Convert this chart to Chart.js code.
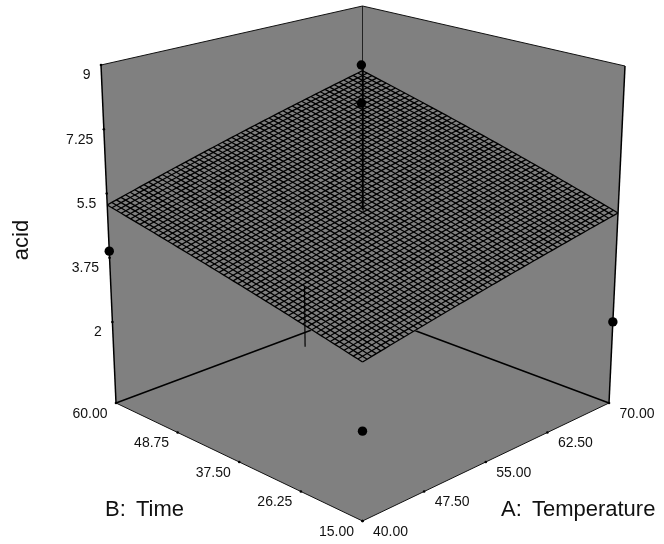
<!DOCTYPE html>
<html>
<head>
<meta charset="utf-8">
<style>html,body{margin:0;padding:0;background:#fff}canvas{display:block}</style>
<script src="https://cdn.jsdelivr.net/npm/chart.js@4/dist/chart.umd.min.js"></script>
</head>
<body>
<canvas id="c" width="664" height="544"></canvas>
<script>
// ---- data ----
const tempTicks = [40, 47.5, 55, 62.5, 70];
const timeTicks = [15, 26.25, 37.5, 48.75, 60];
const acidTicks = [2, 3.75, 5.5, 7.25, 9];
const tempLabels = ['40.00', '47.50', '55.00', '62.50', '70.00'];
const timeLabels = ['15.00', '26.25', '37.50', '48.75', '60.00'];
const acidLabels = ['2', '3.75', '5.5', '7.25', '9'];
const acidFloor = -0.206;
const acidTop = 9;
// fitted response at the four corners of the surface
const surfaceAt40 = [3.75, 5.187];   // T=40: time 15, time 60
const surfaceAt70 = [4.985, 7.047];  // T=70: time 15, time 60
const meshDivisions = 55;
// design points
const pointTemp = [54.92, 54.92, 40, 70, 40];
const pointTime = [37.62, 37.62, 60, 15, 15];
const pointAcid = [9.19, 8.15, 3.93, 2.01, 2.03];
// residual stems
const stemTemp = [55, 43.75];
const stemTime = [37.5, 30.9];
const stemFrom = [5.24, 2.88];
const stemTo = [9.19, 4.44];

// ---- view of the cube: where its corners land on the page ----
const view = {
  floor: { f00: [362.5, 521], f10: [609, 403], f01: [116, 403], f11: [362.5, 311] },
  top:   { f00: [362.5, 151], f10: [625, 66],  f01: [101, 65],  f11: [362.5, 6] }
};
function bil(c, u, v, i) {
  return c.f00[i]*(1-u)*(1-v) + c.f10[i]*u*(1-v) + c.f01[i]*(1-u)*v + c.f11[i]*u*v;
}
function project(T, t, z) {
  const u = (T-40)/30, v = (t-15)/45, w = (z-acidFloor)/(acidTop-acidFloor);
  return {
    x: bil(view.floor,u,v,0)*(1-w) + bil(view.top,u,v,0)*w,
    y: bil(view.floor,u,v,1)*(1-w) + bil(view.top,u,v,1)*w
  };
}
function surface(T, t) {
  const u = (T-40)/30, v = (t-15)/45;
  return surfaceAt40[0]*(1-u)*(1-v) + surfaceAt70[0]*u*(1-v) + surfaceAt40[1]*(1-u)*v + surfaceAt70[1]*u*v;
}

// ---- datasets, later entries on top ----
const datasets = [];
function add(data, o) {
  datasets.push(Object.assign({ data, showLine: true, pointRadius: 0, borderWidth: 1, borderColor: '#000', fill: false, tension: 0, order: -datasets.length }, o));
}
const gray = '#808080';
const face = { fill: 'shape', backgroundColor: gray, borderWidth: 0, borderColor: gray };
const F = acidFloor, Z = acidTop;
add([project(40,60,F), project(40,60,Z), project(70,60,Z), project(70,60,F)], face); // wall, time=60
add([project(70,60,F), project(70,60,Z), project(70,15,Z), project(70,15,F)], face); // wall, T=70
add([project(40,15,F), project(70,15,F), project(70,60,F), project(40,60,F)], face); // floor

add([project(40,60,F), project(70,60,F)], { borderWidth: 1.6 });
add([project(70,15,F), project(70,60,F)], { borderWidth: 1.6 });
add([project(70,60,F), project(70,60,Z)], { borderColor: '#222' });

// surface patch and mesh
add([project(40,15,surface(40,15)), project(70,15,surface(70,15)), project(70,60,surface(70,60)), project(40,60,surface(40,60))], face);
for (let i = 0; i <= meshDivisions; i++) {
  const a = [], b = [];
  for (let j = 0; j <= meshDivisions; j++) {
    const Ti = 40 + 30*i/meshDivisions, Tj = 40 + 30*j/meshDivisions;
    const ti = 15 + 45*i/meshDivisions, tj = 15 + 45*j/meshDivisions;
    a.push(project(Ti, tj, surface(Ti, tj)));
    b.push(project(Tj, ti, surface(Tj, ti)));
  }
  add(a, { borderWidth: 1.3, borderColor: '#000' });
  add(b, { borderWidth: 1.3, borderColor: '#000' });
}
// outer edges
add([project(40,60,Z), project(70,60,Z), project(70,15,Z)], { borderColor: '#111' });
add([project(40,60,Z), project(40,60,F)], { borderWidth: 1.5 });
add([project(70,15,Z), project(70,15,F)], { borderWidth: 1.5 });
add([project(40,60,F), project(40,15,F), project(70,15,F)], { borderColor: '#111' });

// stems
stemTemp.forEach((T, i) => add([project(T, stemTime[i], stemFrom[i]), project(T, stemTime[i], stemTo[i])], { borderWidth: i === 0 ? 2 : 1.2 }));

// axis tick marks
add(tempTicks.map(T => project(T,15,F)), { showLine: false, pointRadius: 1.3, pointBackgroundColor: '#000', pointBorderWidth: 0 });
add(timeTicks.map(t => project(40,t,F)), { showLine: false, pointRadius: 1.3, pointBackgroundColor: '#000', pointBorderWidth: 0 });
add(acidTicks.map(z => project(40,60,z)), { showLine: false, pointRadius: 1.3, pointBackgroundColor: '#000', pointBorderWidth: 0 });

// design points
add(pointTemp.map((T,i) => project(T, pointTime[i], pointAcid[i])), { showLine: false, pointRadius: 4.7, pointBackgroundColor: '#000', pointBorderWidth: 0 });

// ---- axis text ----
const axisText = {
  id: 'axisText',
  afterDatasetsDraw(chart) {
    const { ctx, scales: { x, y } } = chart;
    const at = p => [x.getPixelForValue(p.x), y.getPixelForValue(p.y)];
    ctx.save();
    ctx.fillStyle = '#111';
    ctx.textBaseline = 'middle';
    ctx.font = '14px "Liberation Sans"';
    ctx.textAlign = 'right';
    acidTicks.forEach((z,i) => { const [a,b] = at(project(40,60,z)); ctx.fillText(acidLabels[i], a-10.5, b+10.5); });
    timeTicks.forEach((t,i) => { const [a,b] = at(project(40,t,F)); ctx.fillText(timeLabels[i], a-8.5, b+11); });
    ctx.textAlign = 'left';
    tempTicks.forEach((T,i) => { const [a,b] = at(project(T,15,F)); ctx.fillText(tempLabels[i], a+10.5, b+11); });
    ctx.font = '22px "Liberation Sans"';
    ctx.wordSpacing = '4px';
    ctx.fillText('B: Time', 105, 510);
    ctx.fillText('A: Temperature', 501, 510);
    ctx.wordSpacing = '0px';
    ctx.translate(22, 240);
    ctx.rotate(-Math.PI/2);
    ctx.textAlign = 'center';
    ctx.fillText('acid', 0, 0);
    ctx.restore();
  }
};

new Chart(document.getElementById('c'), {
  type: 'scatter',
  data: { datasets },
  plugins: [axisText],
  options: {
    responsive: false,
    animation: false,
    layout: { padding: 0, autoPadding: false },
    plugins: { legend: { display: false }, tooltip: { enabled: false } },
    events: [],
    scales: {
      x: { type: 'linear', min: 0, max: 664, display: false },
      y: { type: 'linear', min: 0, max: 544, reverse: true, display: false }
    }
  }
});
</script>
</body>
</html>
